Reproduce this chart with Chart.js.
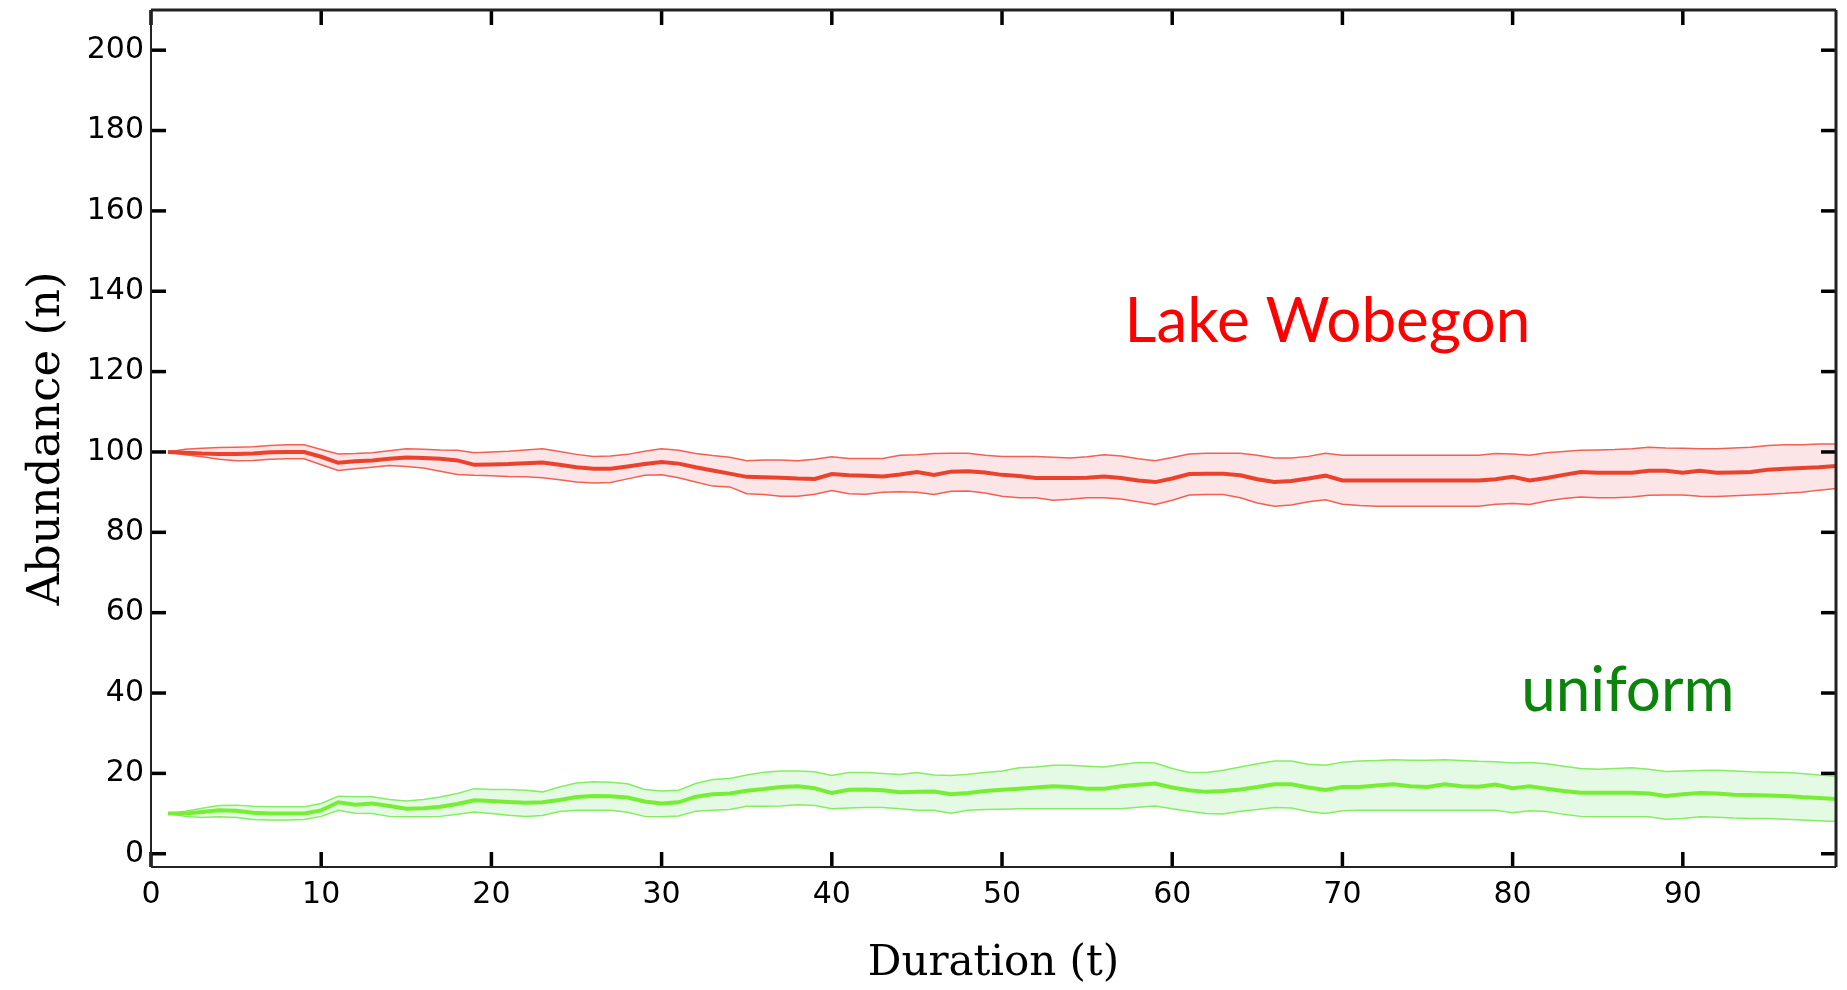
<!DOCTYPE html>
<html>
<head>
<meta charset="utf-8">
<title>Abundance over duration</title>
<script src="https://cdn.jsdelivr.net/npm/chart.js@4.4.1/dist/chart.umd.min.js"></script>
<style>
  html, body { margin: 0; padding: 0; background: #fff; }
  #wrap { width: 1847px; height: 990px; }
</style>
</head>
<body>
<div id="wrap"><canvas id="chart" width="1847" height="990"></canvas></div>
<script>
// time steps (t)
const duration = [
  1, 2, 3, 4, 5, 6, 7, 8, 9, 10,
  11, 12, 13, 14, 15, 16, 17, 18, 19, 20,
  21, 22, 23, 24, 25, 26, 27, 28, 29, 30,
  31, 32, 33, 34, 35, 36, 37, 38, 39, 40,
  41, 42, 43, 44, 45, 46, 47, 48, 49, 50,
  51, 52, 53, 54, 55, 56, 57, 58, 59, 60,
  61, 62, 63, 64, 65, 66, 67, 68, 69, 70,
  71, 72, 73, 74, 75, 76, 77, 78, 79, 80,
  81, 82, 83, 84, 85, 86, 87, 88, 89, 90,
  91, 92, 93, 94, 95, 96, 97, 98, 99
];

// Lake Wobegon run: mean and band
const wobegonMean = [
  100, 99.8, 99.6, 99.5, 99.5, 99.6, 99.9, 100, 100, 98.8,
  97.3, 97.7, 97.9, 98.3, 98.6, 98.5, 98.3, 97.9, 96.8, 96.9,
  97, 97.2, 97.4, 96.8, 96.2, 95.8, 95.8, 96.4, 97, 97.5,
  97.1, 96.2, 95.4, 94.6, 93.8, 93.7, 93.6, 93.4, 93.3, 94.5,
  94.2, 94.1, 93.9, 94.4, 95, 94.3, 95.1, 95.2, 94.9, 94.3,
  94, 93.5, 93.5, 93.5, 93.6, 93.9, 93.5, 92.9, 92.5, 93.4,
  94.5, 94.6, 94.6, 94.2, 93.2, 92.5, 92.8, 93.4, 94.1, 92.9,
  92.9, 92.9, 92.9, 92.9, 92.9, 92.9, 92.9, 92.9, 93.2, 93.8,
  92.9, 93.5, 94.3, 95, 94.8, 94.8, 94.8, 95.3, 95.3, 94.8,
  95.3, 94.8, 94.9, 95, 95.6, 95.8, 96, 96.2, 96.5
];
const wobegonUpper = [
  100, 100.7, 100.9, 101.1, 101.2, 101.3, 101.6, 101.8, 101.8, 100.6,
  99.5, 99.6, 99.8, 100.3, 100.8, 100.7, 100.5, 100.4, 99.8, 100,
  100.2, 100.5, 100.8, 100.1, 99.4, 98.9, 99, 99.4, 100.2, 100.8,
  100.4, 99.6, 99.1, 98.7, 97.8, 98, 98, 97.8, 98.2, 98.8,
  98.4, 98.4, 98.4, 99.2, 99.3, 99.6, 99.7, 99.7, 99.2, 98.9,
  98.9, 98.9, 98.7, 98.5, 98.8, 99.3, 99, 98.3, 97.8, 98.6,
  99.5, 99.7, 99.7, 99.7, 99.2, 98.5, 98.5, 98.9, 99.7, 99.2,
  99.2, 99.2, 99.2, 99.2, 99.2, 99.2, 99.2, 99.2, 99.6, 99.5,
  99.2, 99.8, 100.1, 100.4, 100.5, 100.6, 100.8, 101.2, 101, 100.9,
  100.8, 100.8, 101, 101.2, 101.6, 101.8, 101.8, 102, 102
];
const wobegonLower = [
  100, 99.3, 98.8, 98.2, 97.8, 97.9, 98.2, 98.3, 98.3, 96.8,
  95.4, 95.8, 96.2, 96.6, 96.4, 96, 95.2, 94.4, 94.2, 94.1,
  93.9, 93.8, 93.6, 93.1, 92.5, 92.3, 92.4, 93.3, 94.2, 94.3,
  93.6, 92.5, 91.5, 91.3, 89.6, 89.4, 89, 89, 89.5, 90.4,
  89.6, 89.5, 90, 90.1, 90, 89.4, 90.2, 90.3, 89.8, 89,
  88.6, 88.6, 88, 88.2, 88.6, 88.6, 88.3, 87.6, 86.9, 88,
  89.3, 89.4, 89.4, 88.6, 87.3, 86.5, 86.8, 87.6, 88.1, 87,
  86.7, 86.5, 86.5, 86.5, 86.5, 86.5, 86.5, 86.5, 87, 87.2,
  86.9, 87.8, 88.4, 88.8, 88.6, 88.6, 88.8, 89.2, 89.3, 89.3,
  89, 88.9, 89.1, 89.3, 89.5, 89.7, 90, 90.5, 90.9
];

// uniform run: mean and band
const uniformMean = [
  10, 10, 10.4, 10.8, 10.7, 10.2, 10, 10, 10, 10.8,
  12.8, 12.2, 12.5, 11.9, 11.2, 11.3, 11.7, 12.4, 13.3, 13.1,
  12.9, 12.7, 12.8, 13.4, 14.1, 14.4, 14.3, 14, 13, 12.5,
  12.8, 14.2, 14.8, 15, 15.7, 16.1, 16.6, 16.8, 16.3, 15.1,
  15.9, 16, 15.8, 15.3, 15.4, 15.5, 14.8, 15.1, 15.6, 15.9,
  16.2, 16.5, 16.8, 16.6, 16.2, 16.2, 16.8, 17.2, 17.5, 16.5,
  15.8, 15.4, 15.6, 16, 16.6, 17.3, 17.3, 16.5, 15.9, 16.6,
  16.6, 17, 17.3, 16.8, 16.6, 17.3, 16.8, 16.7, 17.2, 16.3,
  16.8, 16.2, 15.6, 15.2, 15.2, 15.2, 15.2, 15, 14.4, 14.8,
  15.1, 15, 14.7, 14.6, 14.5, 14.4, 14.1, 13.9, 13.6
];
const uniformUpper = [
  10, 10.6, 11.3, 12, 12.1, 11.8, 11.7, 11.7, 11.7, 12.5,
  14.3, 14.2, 14.2, 13.5, 13.1, 13.5, 14.1, 15, 16.2, 16,
  16, 15.8, 15.4, 16.6, 17.6, 17.9, 17.8, 17.4, 16, 15.6,
  15.8, 17.5, 18.5, 18.7, 19.6, 20.3, 20.6, 20.6, 20.4, 19.5,
  20.2, 20.2, 20, 19.7, 20.2, 19.6, 19.5, 19.8, 20.2, 20.6,
  21.4, 21.6, 22, 22, 21.8, 21.6, 22.2, 22.7, 22.6, 21.2,
  20.2, 20.2, 20.8, 21.6, 22.4, 23.1, 23.1, 22.3, 22, 22.8,
  23.1, 23.2, 23.4, 23.3, 23.3, 23.4, 23.2, 23, 22.9, 22.6,
  22.7, 22.4, 21.8, 21.2, 21, 21.2, 21.4, 21, 20.5, 20.6,
  20.7, 20.8, 20.6, 20.4, 20.3, 20.2, 20, 19.6, 19.3
];
const uniformLower = [
  10, 9.3, 9, 9.2, 9, 8.5, 8.4, 8.4, 8.5, 9.3,
  10.8, 10.1, 10, 9.3, 9.2, 9.2, 9.3, 9.8, 10.4, 10,
  9.6, 9.3, 9.5, 10.5, 10.8, 10.8, 10.8, 10.3, 9.3, 9.2,
  9.4, 10.6, 10.8, 11, 11.8, 11.8, 11.9, 12.2, 12, 11.2,
  11.4, 11.5, 11.5, 11.2, 10.8, 10.8, 10.1, 10.8, 11, 11.1,
  11.2, 11.2, 11.2, 11.2, 11.2, 11.2, 11.2, 11.6, 11.9, 11.2,
  10.6, 10, 9.9, 10.6, 11, 11.5, 11.4, 10.5, 10, 10.7,
  10.8, 10.8, 10.8, 10.8, 10.8, 10.8, 10.8, 10.8, 10.8, 10.2,
  10.7, 10.5, 9.8, 9.3, 9.2, 9.2, 9.2, 9.2, 8.6, 8.8,
  9.2, 9.1, 8.9, 8.8, 8.8, 8.6, 8.4, 8.2, 8
];

// axis ticks
const xTickValues = [0, 10, 20, 30, 40, 50, 60, 70, 80, 90];
const yTickValues = [0, 20, 40, 60, 80, 100, 120, 140, 160, 180, 200];

// text labels placed in data space
const noteText = ['Lake Wobegon', 'uniform'];
const noteT = [57.2, 80.5];
const noteN = [127.3, 35.5];
const noteColor = ['#ff0000', '#0a840a'];

function pts(ys) {
  return duration.map((t, i) => ({ x: t, y: ys[i] }));
}

// frame with inward ticks on all four sides, plus the text labels
const framePlugin = {
  id: 'frame',
  afterDatasetsDraw(chart) {
    const { ctx, scales: { x, y } } = chart;
    ctx.save();
    ctx.textAlign = 'left';
    ctx.textBaseline = 'alphabetic';
    ctx.font = '62px Lato';
    noteText.forEach((txt, i) => {
      ctx.fillStyle = noteColor[i];
      ctx.fillText(txt, x.getPixelForValue(noteT[i]), y.getPixelForValue(noteN[i]));
    });
    ctx.restore();
  },
  afterDraw(chart) {
    const { ctx, chartArea: a, scales: { x, y } } = chart;
    const seg = (x1, y1, x2, y2) => {
      ctx.beginPath();
      ctx.moveTo(x1, y1);
      ctx.lineTo(x2, y2);
      ctx.stroke();
    };
    ctx.save();
    ctx.strokeStyle = '#000';
    ctx.lineWidth = 3.5;
    const len = 15;
    xTickValues.forEach(v => {
      const px = x.getPixelForValue(v);
      seg(px, a.bottom, px, a.bottom - len);
      seg(px, a.top, px, a.top + len);
    });
    yTickValues.forEach(v => {
      const py = y.getPixelForValue(v);
      seg(a.left, py, a.left + len, py);
      seg(a.right, py, a.right - len, py);
    });
    ctx.strokeStyle = '#222';
    ctx.lineWidth = 2;
    seg(a.left, a.top, a.left, a.bottom);
    seg(a.left, a.bottom, a.right, a.bottom);
    ctx.lineWidth = 3;
    seg(a.left, a.top, a.right, a.top);
    seg(a.right, a.top, a.right, a.bottom);
    ctx.restore();
  }
};

const redLine = 'rgb(234,66,44)';
const redEdge = 'rgb(242,96,84)';
const redFill = 'rgb(251,229,231)';
const greenLine = 'rgb(118,238,52)';
const greenEdge = 'rgb(132,238,96)';
const greenFill = 'rgb(228,250,228)';

new Chart(document.getElementById('chart'), {
  type: 'line',
  data: {
    datasets: [
      { label: 'Lake Wobegon', data: pts(wobegonMean), borderColor: redLine, borderWidth: 4, fill: false, order: 0 },
      { label: 'uniform', data: pts(uniformMean), borderColor: greenLine, borderWidth: 4, fill: false, order: 0 },
      { label: 'Lake Wobegon upper', data: pts(wobegonUpper), borderColor: redEdge, borderWidth: 1.5, backgroundColor: redFill, fill: '+1', order: 1 },
      { label: 'Lake Wobegon lower', data: pts(wobegonLower), borderColor: redEdge, borderWidth: 1.5, fill: false, order: 1 },
      { label: 'uniform upper', data: pts(uniformUpper), borderColor: greenEdge, borderWidth: 1.5, backgroundColor: greenFill, fill: '+1', order: 1 },
      { label: 'uniform lower', data: pts(uniformLower), borderColor: greenEdge, borderWidth: 1.5, fill: false, order: 1 }
    ]
  },
  options: {
    responsive: false,
    animation: false,
    layout: { padding: { top: 10, right: 11, left: 0, bottom: 0 } },
    elements: { point: { radius: 0 }, line: { tension: 0 } },
    plugins: {
      legend: { display: false },
      tooltip: { enabled: false },
      filler: { drawTime: 'beforeDatasetsDraw' }
    },
    scales: {
      x: {
        type: 'linear',
        min: 0,
        max: 99,
        afterBuildTicks: s => { s.ticks = xTickValues.map(v => ({ value: v })); },
        afterFit: s => { s.height = 123; s.paddingLeft = 0; s.paddingRight = 0; },
        grid: { display: false, drawTicks: false },
        border: { display: false },
        ticks: { color: '#000', padding: 10, maxRotation: 0, font: { family: 'DejaVu Sans', size: 30 } },
        title: {
          display: true,
          text: 'Duration (t)',
          color: '#000',
          padding: { top: 0, bottom: 1 },
          font: { family: 'DejaVu Serif', size: 42 }
        }
      },
      y: {
        min: -3.3,
        max: 210,
        afterBuildTicks: s => { s.ticks = yTickValues.map(v => ({ value: v })); },
        afterFit: s => { s.width = 151; s.paddingTop = 0; s.paddingBottom = 0; },
        grid: { display: false, drawTicks: false },
        border: { display: false },
        ticks: { color: '#000', padding: 7, font: { family: 'DejaVu Sans', size: 30 } },
        title: {
          display: true,
          text: 'Abundance (n)',
          color: '#000',
          padding: { top: 20, bottom: 0 },
          font: { family: 'DejaVu Serif', size: 45 }
        }
      }
    }
  },
  plugins: [framePlugin]
});
</script>
</body>
</html>
